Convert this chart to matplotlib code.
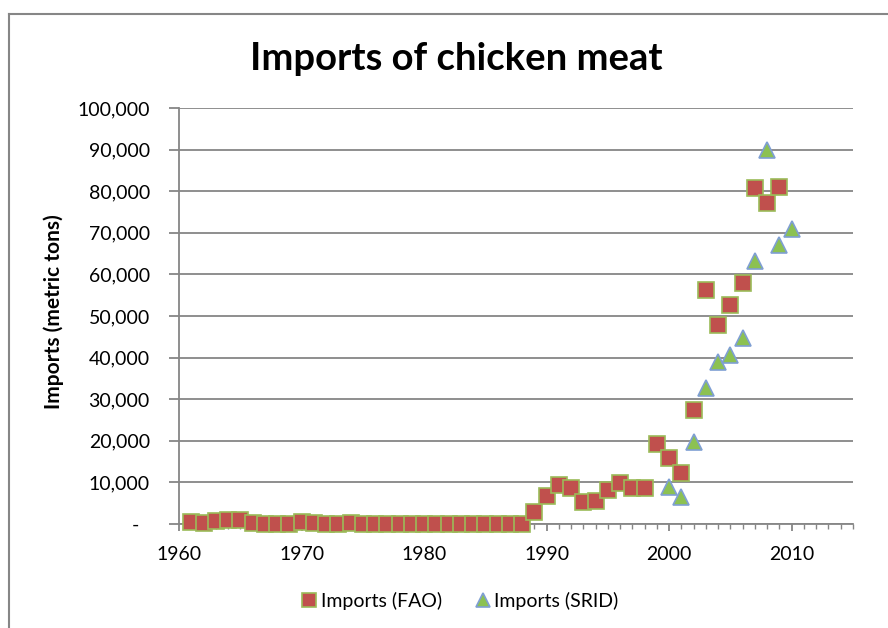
import matplotlib
matplotlib.use("Agg")
import matplotlib.pyplot as plt
from matplotlib.ticker import MultipleLocator, FuncFormatter
from matplotlib.lines import Line2D

plt.rcParams['font.family'] = ['Lato', 'DejaVu Sans']

# ---- data ----
fao_years = list(range(1961, 2010))
fao_imports = [550, 300, 700, 950, 950, 300, 100, 100, 100, 550,
               300, 0, 0, 150, 100, 100, 100, 100, 100, 100,
               100, 100, 100, 100, 100, 100, 100, 100, 2800, 6700,
               9400, 8600, 5200, 5500, 8100, 9800, 8700, 8600, 19200, 15900,
               12200, 27300, 56200, 47800, 52700, 58000, 80700, 77200, 80900]
srid_years = list(range(2000, 2011))
srid_imports = [8900, 6500, 19700, 32800, 39000, 40600, 44700, 63200, 89800, 67000, 70800]

title = "Imports of chicken meat"
y_label = "Imports (metric tons)"
series_names = ["Imports (FAO)", "Imports (SRID)"]

W, H = 888, 628
fig = plt.figure(figsize=(W / 100, H / 100), dpi=100)
ax = fig.add_axes([179 / W, 1 - 524 / H, (853 - 179) / W, (524 - 108) / H])

grey = '#868686'
ax.plot(fao_years, fao_imports, linestyle='none', marker='s', markersize=11.5,
        markerfacecolor='#C0504D', markeredgecolor='#9BBB59', markeredgewidth=1.2,
        label=series_names[0], zorder=3, clip_on=False)
ax.plot(srid_years, srid_imports, linestyle='none', marker='^', markersize=12,
        markerfacecolor='#8CC152', markeredgecolor='#7F9FD3', markeredgewidth=1.2,
        label=series_names[1], zorder=3, clip_on=False)

ax.set_xlim(1960, 2015)
ax.set_ylim(0, 100000)
ax.xaxis.set_major_locator(MultipleLocator(10))
ax.xaxis.set_minor_locator(MultipleLocator(1))
ax.yaxis.set_major_locator(MultipleLocator(10000))
ax.yaxis.set_major_formatter(FuncFormatter(lambda v, p: f"{v:,.0f}" if v else "-  "))

ax.grid(axis='y', color=grey, linewidth=1.3)
ax.set_axisbelow(True)
for s in ['top', 'right']:
    ax.spines[s].set_visible(False)
for s in ['left', 'bottom']:
    ax.spines[s].set_color(grey)
    ax.spines[s].set_linewidth(1.3)

ax.tick_params(axis='y', which='major', length=7, width=1.3, color=grey,
               labelsize=14, pad=14, labelcolor='black')
ax.tick_params(axis='x', which='major', length=5, width=1.3, color=grey,
               labelsize=14, pad=11, labelcolor='black')
ax.tick_params(axis='x', which='minor', length=3.5, width=1.0, color=grey)

fig.text(456 / W, 1 - 70 / H, title, ha='center', va='baseline',
         fontsize=27.5, fontweight='bold')
fig.text(54 / W, 1 - 312 / H, y_label, ha='center', va='center', rotation=90,
         fontsize=15, fontweight='bold')

leg = fig.legend(loc='center', bbox_to_anchor=(458 / W, 1 - 601 / H), ncol=2,
                 frameon=False, fontsize=14, handletextpad=0.0, columnspacing=1.5,
                 handlelength=1.2, markerscale=0.85)

# chart border (top and left visible)
fig.add_artist(Line2D([8.5 / W, 8.5 / W], [0, 1 - 13.5 / H], color=grey, linewidth=1.5,
                      transform=fig.transFigure))
fig.add_artist(Line2D([8.5 / W, 1], [1 - 13.5 / H, 1 - 13.5 / H], color=grey, linewidth=1.5,
                      transform=fig.transFigure))

fig.savefig('out.png', dpi=100, facecolor='white')
